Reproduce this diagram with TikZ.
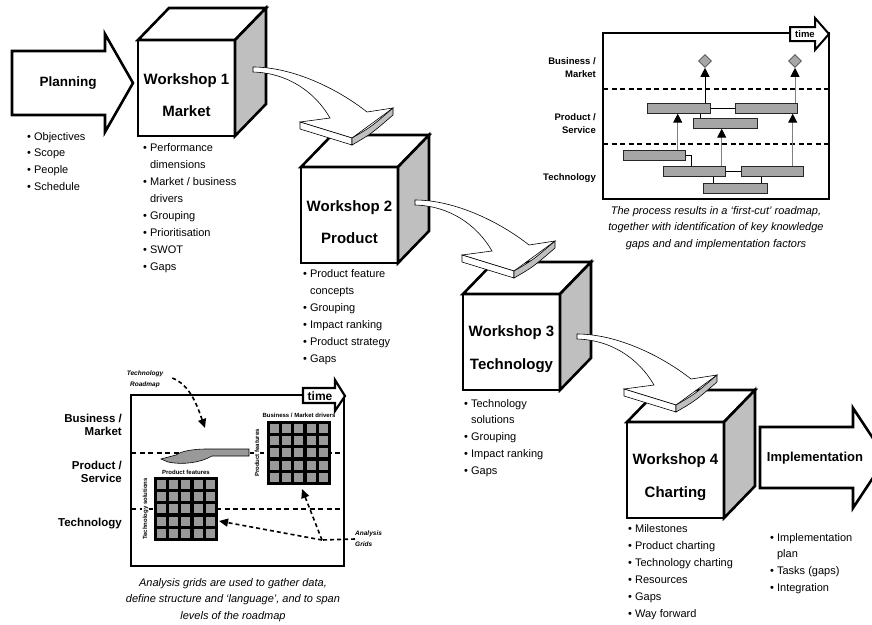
\documentclass[tikz,border=0pt]{standalone}
\usepackage{fontspec}
\setmainfont{Liberation Sans}
\usetikzlibrary{arrows.meta,calc,positioning,shapes.geometric}

\newcommand{\itm}{\textbullet\ }
\newcommand{\ind}{\hphantom{\textbullet\ }}
% workshop cube: name, top left of front face, title
\newcommand{\wscube}[3]{%
  \node[front] (#1) at (#2) {};
  \draw[face] (#1.north west) -- ++(31,-32) -- ++(97,0) -- (#1.north east) -- cycle;
  \draw[sideface] (#1.north east) -- ++(31,-32) -- ++(0,96) -- (#1.south east) -- cycle;
  \node[title] (#1t) at ([yshift=-7pt]#1.center) {#3};
}

\tikzset{
  face/.style={draw, line width=2.6pt, fill=white},
  sideface/.style={face, fill=black!25},
  front/.style={face, minimum width=97pt, minimum height=96pt, inner sep=0pt, outer sep=0pt, anchor=north west},
  title/.style={font=\bfseries\fontsize{15}{32.5}\selectfont, align=center, inner sep=0pt},
  heading/.style={font=\bfseries\fontsize{13.5}{16}\selectfont, inner sep=0pt},
  items/.style={font=\fontsize{11}{17}\selectfont, align=left, anchor=north west, inner sep=0pt},
  blockarrow/.style={draw, line width=2.6pt, fill=white},
  frame/.style={draw, line width=2.6pt},
  lvlline/.style={line width=1.3pt, dash pattern=on 5pt off 3.5pt},
  lvltext/.style={font=\bfseries\fontsize{9.5}{13}\selectfont, align=right, anchor=east, inner sep=0pt},
  lvlbig/.style={lvltext, font=\bfseries\fontsize{11.5}{13}\selectfont},
  bar/.style={draw=black!85, line width=0.7pt, fill=black!35, minimum height=10pt, inner sep=0pt, anchor=north west},
  milestone/.style={diamond, draw=black!70, line width=0.6pt, fill=black!35, minimum width=13pt, minimum height=13pt, inner sep=0pt},
  link/.style={line width=0.7pt},
  uparr/.style={line width=1pt, draw=black!50, -{Triangle[length=9pt,width=9pt,color=black]}},
  caption/.style={font=\itshape\fontsize{11}{16.5}\selectfont, align=center, inner sep=0pt},
  gridlbl/.style={font=\bfseries\fontsize{6}{7}\selectfont, inner sep=0.5pt},
  note/.style={font=\bfseries\itshape\fontsize{6.5}{11}\selectfont, inner sep=0pt},
  gridbox/.style={fill=black, minimum size=64pt, inner sep=0pt, outer sep=0pt, anchor=north west},
  cell/.style={fill=black!40},
  dashline/.style={line width=1.6pt, dash pattern=on 4pt off 3pt},
  dasharr/.style={dashline, -{Triangle[length=9pt,width=8pt]}},
  ribbon/.pic={
    \draw[line width=0.6pt, fill=white] (0,0) .. controls (40,0) and (85,22) .. (114,45) -- (140,41) -- (99,71)
      -- (47,55) -- (77,51) .. controls (62,25) and (35,6) .. (0,5) -- cycle;
    \draw[line width=0.6pt, fill=white] (47,55) -- (99,71) -- (99,78) -- (47,62) -- cycle;
    \draw[line width=0.6pt, fill=black!25] (99,71) .. controls (118,60) .. (140,41) -- (140,48)
      .. controls (118,67) .. (99,78) -- cycle;
  }
}

\begin{document}
\begin{tikzpicture}[x=1pt,y=-1pt]
\clip (0,0) rectangle (872,624);

% planning
\draw[blockarrow] (12,51) -- (105,51) -- (105,34) -- (133,83) -- (105,132) -- (105,115) -- (12,115) -- cycle;
\node[heading] (plan) at (68,83) {Planning};
\node[items, font=\fontsize{11}{16.7}\selectfont] (planlist) at (27,132) {\itm Objectives\\\itm Scope\\\itm People\\\itm Schedule};

% the four workshops
\wscube{w1}{138,40}{Workshop 1\\Market}
\wscube{w2}{301,167}{Workshop 2\\Product}
\wscube{w3}{463,294}{Workshop 3\\Technology}
\wscube{w4}{627,422}{Workshop 4\\Charting}

\pic at ($(w1.north east)+(18,27)$) {ribbon};
\pic at ($(w2.north east)+(17,33)$) {ribbon};
\pic at ($(w3.north east)+(17,40)$) {ribbon};

\node[items] (w1list) at ($(w1.south west)+(5,7)$) {\itm Performance\\\ind dimensions\\\itm Market / business\\\ind drivers\\\itm Grouping\\\itm Prioritisation\\\itm SWOT\\\itm Gaps};
\node[items] (w2list) at ($(w2.south west)+(2,6)$) {\itm Product feature\\\ind concepts\\\itm Grouping\\\itm Impact ranking\\\itm Product strategy\\\itm Gaps};
\node[items, font=\fontsize{11}{16.75}\selectfont] (w3list) at ($(w3.south west)+(1,9)$) {\itm Technology\\\ind solutions\\\itm Grouping\\\itm Impact ranking\\\itm Gaps};
\node[items] (w4list) at ($(w4.south west)+(1,6)$) {\itm Milestones\\\itm Product charting\\\itm Technology charting\\\itm Resources\\\itm Gaps\\\itm Way forward};

% implementation
\draw[blockarrow] (760,427) -- (853,427) -- (853,408) -- (886,458) -- (853,508) -- (853,488) -- (760,488) -- cycle;
\node[heading, font=\bfseries\fontsize{13}{16}\selectfont] (impl) at (815,458) {Implementation};
\node[items, font=\fontsize{11}{16.7}\selectfont] (impllist) at (770,533) {\itm Implementation\\\ind plan\\\itm Tasks (gaps)\\\itm Integration};

% first-cut roadmap
\draw[frame] (603,33) rectangle (829,199);
\draw[lvlline] (603,89) -- (829,89) (603,144) -- (829,144);
\draw[blockarrow, line width=2pt] (790,27) -- (815,27) -- (815,18) -- (829,34) -- (815,50) -- (815,41) -- (790,41) -- cycle;
\node[font=\bfseries\fontsize{9.5}{10}\selectfont, inner sep=0pt] (time1) at (805,34) {time};
\node[lvltext] (bm1) at (596,68) {Business /\\Market};
\node[lvltext] (ps1) at (596,124) {Product /\\Service};
\node[lvltext] (te1) at (596,178) {Technology};

\node[bar, minimum width=63pt] (p1) at (647,103) {};
\node[bar, minimum width=62pt] (p2) at (735,103) {};
\node[bar, minimum width=64pt] (p3) at (693,118) {};
\node[bar, minimum width=62pt] (t1) at (623,150) {};
\node[bar, minimum width=62pt] (t2) at (663,166) {};
\node[bar, minimum width=62pt] (t3) at (741,166) {};
\node[bar, minimum width=64pt] (t4) at (703,183) {};
\node[milestone] (d1) at (705,61) {};
\node[milestone] (d2) at (795,61) {};

\draw[link] (p1.east) -- (p2.west);
\draw[link] (t2.east) -- (t3.west);
\coordinate (c1) at ($(p3.north west)+(7,0)$);
\draw[link] (c1) -- (c1 |- p1.south);
\coordinate (c2) at ($(t2.north west)+(28,0)$);
\draw[link] (t1.east) -| (c2);
\coordinate (c3) at ($(t4.north west)+(10,0)$);
\draw[link] (c3) -- (c3 |- t2.south);
\coordinate (c4) at ($(t4.north east)+(-6,0)$);
\draw[link] (c4) -- (c4 |- t3.south);

\draw[uparr, draw=black] (d1 |- p1.north) -- (d1.south);
\draw[uparr] (d2 |- p2.north) -- (d2.south);
\coordinate (a1) at ($(t1.north east)+(-8,0)$);
\draw[uparr] (a1) -- (a1 |- p1.south);
\coordinate (a2) at ($(t2.north east)+(-4,0)$);
\draw[uparr] (a2) -- (a2 |- p3.south);
\coordinate (a3) at ($(t3.north east)+(-11,0)$);
\draw[uparr] (a3) -- (a3 |- p2.south);

\node[caption] (cap1) at (716,228) {The process results in a `first-cut' roadmap,\\together with identification of key knowledge\\gaps and and implementation factors};

% analysis grids
\draw[frame] (131,395) rectangle (344,566);
\draw[lvlline] (131,453) -- (344,453) (131,509) -- (344,509);
\draw[blockarrow, line width=2.2pt] (303,388) -- (335,388) -- (335,380) -- (345,396) -- (335,411) -- (335,403) -- (303,403) -- cycle;
\node[font=\bfseries\fontsize{12}{12}\selectfont, inner sep=0pt] (time2) at (320,396) {time};
\node[lvlbig] (bm2) at (122,425) {Business /\\Market};
\node[lvlbig] (ps2) at (122,472) {Product /\\Service};
\node[lvlbig] (te2) at (122,524) {Technology};

\node[gridbox] (g1) at (154,477) {};
\node[gridbox] (g2) at (267,421) {};
\foreach \i in {0,...,4}
  \foreach \j in {0,...,4} {
    \fill[cell] ($(g1.north west)+(3+12.2*\i,3+12.2*\j)$) rectangle ++(9,9);
    \fill[cell] ($(g2.north west)+(3+12.2*\i,3+12.2*\j)$) rectangle ++(9,9);
  }
\node[gridlbl, above=2pt of g1] (g1top) {Product features};
\node[gridlbl, above=3pt of g2] (g2top) {Business / Market drivers};
\node[gridlbl, rotate=90, anchor=south, fill=white] (g1side) at ([xshift=-5pt]g1.west) {Technology solutions};
\node[gridlbl, rotate=90, anchor=south, fill=white] (g2side) at ([xshift=-7pt]g2.west) {Product features};

\draw[line width=0.6pt, fill=black!40] (249,449) -- (207,449) .. controls (190,449) and (180,452) .. (176,455)
  -- (161,459) -- (168,462) .. controls (182,465) and (200,463) .. (212,456) -- (249,456) -- cycle;

\node[note, align=center] (tr) at (145,379) {Technology\\Roadmap};
\draw[dasharr] ($(tr.east)+(9,-1)$) .. controls (190,385) and (197,405) .. (205,428);
\node[note, align=left, anchor=west] (ag) at (355,539) {Analysis\\Grids};
\coordinate (jn) at (322,540);
\draw[dashline] (ag.west) -- (jn);
\draw[dasharr] (jn) -- ($(g1.east)+(1,12)$);
\draw[dasharr] (jn) -- ($(g2.south)+(3,4)$);

\node[caption] (cap2) at (233,600) {Analysis grids are used to gather data,\\define structure and `language', and to span\\levels of the roadmap};
\end{tikzpicture}
\end{document}
